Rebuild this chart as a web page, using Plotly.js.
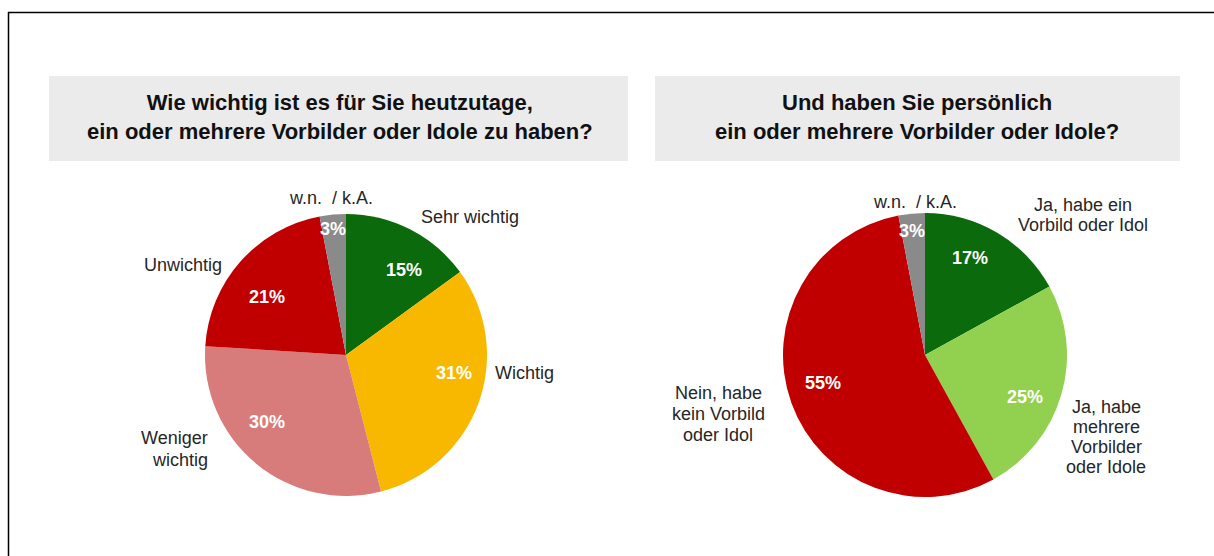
<!DOCTYPE html>
<html>
<head>
<meta charset="utf-8">
<script src="https://cdn.plot.ly/plotly-3.0.1.min.js"></script>
<style>
html,body{margin:0;padding:0;background:#fff;}
#chart{width:1214px;height:556px;}
</style>
</head>
<body>
<div id="chart"></div>
<script>
// ---- data ----
const title1 = "Wie wichtig ist es für Sie heutzutage,<br>ein oder mehrere Vorbilder oder Idole zu haben?";
const title2 = "Und haben Sie persönlich<br>ein oder mehrere Vorbilder oder Idole?";

const labels1 = ["Sehr wichtig", "Wichtig", "Weniger<br>wichtig", "Unwichtig", "w.n.  / k.A."];
const values1 = [15, 31, 30, 21, 3];
const colors1 = ["#0b6a0b", "#f9b800", "#d87b7b", "#c00000", "#8a8a8a"];

const labels2 = ["Ja, habe ein<br>Vorbild oder Idol", "Ja, habe<br>mehrere<br>Vorbilder<br>oder Idole", "Nein, habe<br>kein Vorbild<br>oder Idol", "w.n.  / k.A."];
const values2 = [17, 25, 55, 3];
const colors2 = ["#0b6a0b", "#92d050", "#c00000", "#8a8a8a"];

// ---- layout helpers (pixel -> paper) ----
const W = 1214, H = 556;
const px = x => x / W;
const py = y => 1 - y / H;

const pieBase = {
  type: "pie",
  sort: false,
  direction: "clockwise",
  rotation: 0,
  textinfo: "none",
  hoverinfo: "label+percent",
  showlegend: false,
  automargin: false
};

const trace1 = Object.assign({}, pieBase, {
  labels: labels1, values: values1,
  marker: {colors: colors1, line: {width: 0}},
  domain: {x: [px(205), px(487)], y: [py(496), py(214)]}
});
const trace2 = Object.assign({}, pieBase, {
  labels: labels2, values: values2,
  marker: {colors: colors2, line: {width: 0}},
  domain: {x: [px(783), px(1067)], y: [py(497), py(213)]}
});

const FAM = "Liberation Sans, Arial, sans-serif";
const labelFont = {family: FAM, size: 18, color: "#262626"};
const pctFont = {family: FAM, size: 18, color: "#ffffff", weight: "bold"};
const titleFont = {family: FAM, size: 22, color: "#111111", weight: "bold"};

function ann(x, y, text, font, xanchor) {
  return {xref: "paper", yref: "paper", x: px(x), y: py(y), text: text, showarrow: false,
          font: font, align: "center", xanchor: xanchor || "center", yanchor: "middle"};
}

// label placement: [x, y of first line, xanchor, line spacing]
const place1 = [[470, 217, "center", 22], [493, 373, "left", 22], [210, 438, "right", 22],
                [183, 265, "center", 22], [331, 198, "center", 22]];
const pos1Pct = [[404, 270], [454, 373], [267, 422], [267, 297], [333, 229]];
const place2 = [[1083, 205, "center", 20], [1106, 407, "center", 20], [718, 393, "center", 21],
                [915, 202, "center", 20]];
const pos2Pct = [[970, 258], [1025, 397], [823, 383], [912, 231]];

const annotations = [];
function addLabel(text, p) {
  text.split("<br>").forEach((line, k) => {
    annotations.push(ann(p[0], p[1] + k * p[3], line, labelFont, p[2]));
  });
}
labels1.forEach((l, i) => {
  addLabel(l, place1[i]);
  annotations.push(ann(pos1Pct[i][0], pos1Pct[i][1], values1[i] + "%", pctFont));
});
labels2.forEach((l, i) => {
  addLabel(l, place2[i]);
  annotations.push(ann(pos2Pct[i][0], pos2Pct[i][1], values2[i] + "%", pctFont));
});
annotations.push(ann(340, 117, title1, titleFont));
annotations.push(ann(917, 117, title2, titleFont));

const shapes = [
  {type: "rect", xref: "paper", yref: "paper", x0: px(49), x1: px(628), y0: py(161), y1: py(76),
   fillcolor: "#ebebeb", line: {width: 0}, layer: "below"},
  {type: "rect", xref: "paper", yref: "paper", x0: px(655), x1: px(1180), y0: py(161), y1: py(76),
   fillcolor: "#ebebeb", line: {width: 0}, layer: "below"},
  {type: "line", xref: "paper", yref: "paper", x0: px(8), x1: px(1214), y0: py(12.5), y1: py(12.5),
   line: {color: "#000", width: 1.5}},
  {type: "line", xref: "paper", yref: "paper", x0: px(8.5), x1: px(8.5), y0: py(12), y1: py(556),
   line: {color: "#000", width: 1.5}}
];

const layout = {
  width: W, height: H,
  margin: {l: 0, r: 0, t: 0, b: 0},
  paper_bgcolor: "#ffffff",
  plot_bgcolor: "#ffffff",
  font: {family: FAM},
  annotations: annotations,
  shapes: shapes
};

Plotly.newPlot("chart", [trace1, trace2], layout, {displayModeBar: false, staticPlot: true});
</script>
</body>
</html>
